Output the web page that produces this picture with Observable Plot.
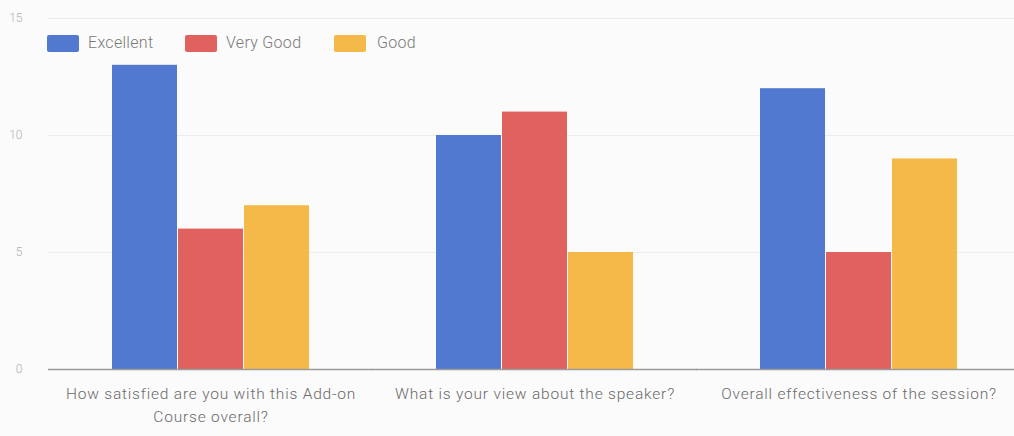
<!DOCTYPE html>
<html><head><meta charset="utf-8">
<script src="https://cdn.jsdelivr.net/npm/d3@7"></script>
<script src="https://cdn.jsdelivr.net/npm/@observablehq/plot@0.6"></script>
<style>
body{margin:0;background:#fbfbfb;font-family:Roboto,"Liberation Sans",sans-serif;}
#wrap{position:relative;width:1014px;height:436px;}
#legend{position:absolute;left:0;top:0;font-size:16px;font-weight:300;color:#7a7a7a;letter-spacing:0.3px;}
#legend .sw{position:absolute;top:35px;width:32px;height:17px;border-radius:2px;}
#legend .tx{position:absolute;top:33px;white-space:nowrap;}
g[aria-label="fx-axis tick label"] text{letter-spacing:0.8px;}
</style></head>
<body><div id="wrap"><div id="legend"></div></div>
<script>
const questions = ["How satisfied are you with this Add-on Course overall?", "What is your view about the speaker?", "Overall effectiveness of the session?"];
const questionLabels = ["How satisfied are you with this Add-on\nCourse overall?", "What is your view about the speaker?", "Overall effectiveness of the session?"];
const series = ["Excellent", "Very Good", "Good"];
const excellent = [13, 10, 12];
const veryGood = [6, 11, 5];
const good = [7, 5, 9];
const colors = ["#5079cf", "#e0615e", "#f5b94a"];
const yTicks = [0, 5, 10, 15];

const vals = [excellent, veryGood, good];
const data = [];
questions.forEach((q, i) => series.forEach((s, j) => data.push({q, s, v: vals[j][i]})));

const chart = Plot.plot({
  width: 1014, height: 436,
  marginLeft: 48, marginRight: -7, marginTop: 18, marginBottom: 67,
  style: {background: "transparent", fontFamily: "Roboto, 'Liberation Sans', sans-serif"},
  fx: {domain: questions, paddingInner: 0.38, paddingOuter: 0.19, label: null},
  x: {domain: series, padding: 0.015, axis: null},
  y: {domain: [0, 15], ticks: yTicks, label: null},
  color: {domain: series, range: colors},
  marks: [
    Plot.ruleY(yTicks.filter(t => t > 0), {stroke: "#ececec", strokeWidth: 1, insetLeft: -62, insetRight: -62}),
    Plot.axisY({ticks: yTicks, tickSize: 0, tickPadding: 0, dx: -88, fill: "#b0b0b0", fontSize: 12, fontWeight: 300, textAnchor: "end", facetAnchor: "left", label: null}),
    Plot.axisFx({anchor: "bottom", tickSize: 0, tickPadding: 14, fontSize: 15.5, fontWeight: 300, fill: "#6a6a6a", lineWidth: Infinity, lineHeight: 1.45,
      tickFormat: d => questionLabels[questions.indexOf(d)], label: null}),
    Plot.barY(data, {fx: "q", x: "s", y: "v", fill: "s"}),
    Plot.ruleY([0], {stroke: "#9a9a9a", strokeWidth: 1.5, insetLeft: -62, insetRight: -62})
  ]
});
document.getElementById("wrap").appendChild(chart);

const swLeft = [47, 185, 334], txLeft = [88, 226, 377];
const lg = document.getElementById("legend");
series.forEach((s, i) => {
  const sw = document.createElement("div"); sw.className = "sw"; sw.style.background = colors[i]; sw.style.left = swLeft[i] + "px";
  const t = document.createElement("span"); t.className = "tx"; t.textContent = s; t.style.left = txLeft[i] + "px";
  lg.appendChild(sw); lg.appendChild(t);
});
</script></body></html>
